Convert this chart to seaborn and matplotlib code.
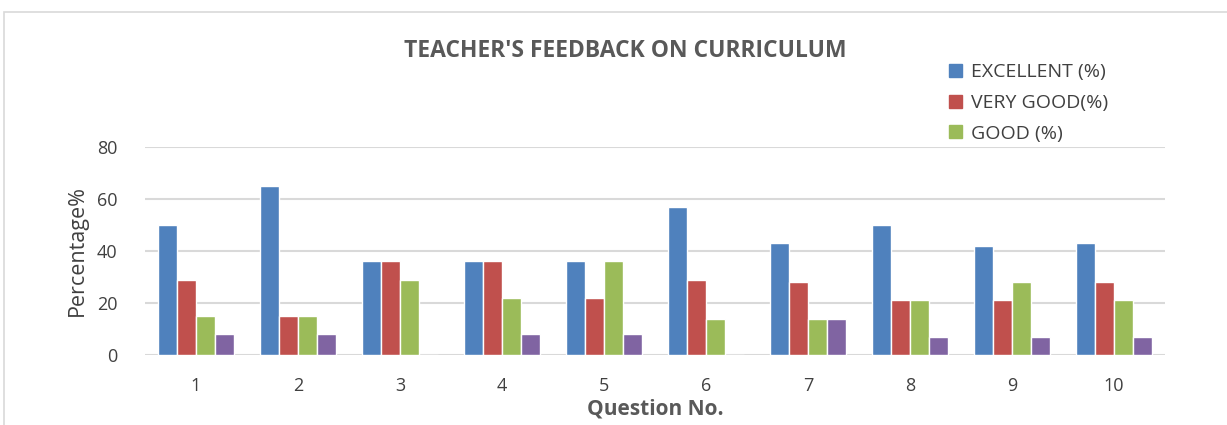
import matplotlib
matplotlib.use("Agg")
import matplotlib.pyplot as plt
import seaborn as sns
import pandas as pd
from matplotlib.patches import Rectangle

questions = ["1", "2", "3", "4", "5", "6", "7", "8", "9", "10"]
excellent = [50, 65, 36, 36, 36, 57, 43, 50, 42, 43]
very_good = [29, 15, 36, 36, 22, 29, 28, 21, 21, 28]
good = [15, 15, 29, 22, 36, 14, 14, 21, 28, 21]
average = [8, 8, 0, 8, 8, 0, 14, 7, 7, 7]
series_names = ["EXCELLENT (%)", "VERY GOOD(%)", "GOOD (%)", "AVERAGE (%)"]
colors = ["#4F81BD", "#C0504D", "#9BBB59", "#8064A2"]

rows = []
for name, vals in zip(series_names, [excellent, very_good, good, average]):
    for q, v in zip(questions, vals):
        rows.append({"Question": q, "Series": name, "Value": v})
df = pd.DataFrame(rows)

sns.set_theme(style="white")
plt.rcParams['font.family'] = ['Open Sans', 'DejaVu Sans']

fig = plt.figure(figsize=(12.27, 4.25), dpi=100)
ax = fig.add_axes([145/1227, 1-355/425, (1165-145)/1227, (355-147)/425])

sns.barplot(data=df, x="Question", y="Value", hue="Series", order=questions,
            hue_order=series_names, palette=colors, width=0.74,
            edgecolor="white", linewidth=1.0, ax=ax, legend=False, saturation=1)

ax.set_ylim(0, 80)
ax.set_yticks([0, 20, 40, 60, 80])
ax.set_xlim(-0.5, 9.5)
ax.yaxis.grid(True, color="#D9D9D9", linewidth=1.5)
ax.set_axisbelow(True)
for s in ax.spines.values():
    s.set_visible(False)
ax.tick_params(axis="both", length=0, labelsize=13, colors="#404040")
ax.tick_params(axis="x", pad=16)
ax.tick_params(axis="y", pad=20)

ax.set_ylabel("Percentage%", fontsize=15.5, color="#404040", labelpad=6)
ax.set_xlabel("Question No.", fontsize=15, fontweight="bold", color="#595959", labelpad=2)

fig.text(625/1227, 1-51/425, "TEACHER'S FEEDBACK ON CURRICULUM", ha="center", va="center",
         fontsize=16.5, fontweight="bold", color="#595959")

handles = [Rectangle((0, 0), 1, 1, color=c) for c in colors[:3]]
leg = fig.legend(handles, series_names[:3], loc="upper left",
                 bbox_to_anchor=(932/1227, 1-46/425), frameon=False,
                 fontsize=14, handlelength=0.65, handleheight=0.65,
                 handletextpad=0.45, labelspacing=0.65, labelcolor="#404040")

fig.add_artist(Rectangle((4/1227, -0.1), 2, 1 - 12/425 + 0.1, transform=fig.transFigure,
                         fill=False, edgecolor="#D9D9D9", linewidth=1.2))

fig.savefig("out.png", dpi=100)
